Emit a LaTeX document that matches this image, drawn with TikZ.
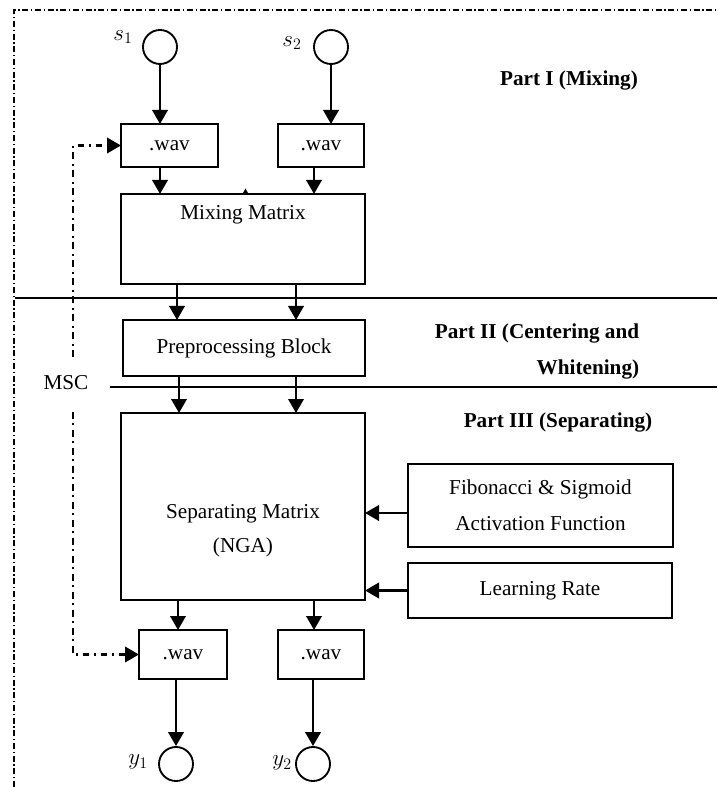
\documentclass[tikz,border=0pt]{standalone}
\usepackage{fontspec}
\setmainfont{Liberation Serif}
\usetikzlibrary{positioning,calc,arrows.meta}

\tikzset{
	blk/.style={draw, line width=1.4pt, inner sep=0pt, outer sep=0pt,%
		font=\fontsize{15.9}{27}\selectfont, align=center},
	src/.style={draw, circle, line width=1.4pt, minimum size=25.5pt, inner sep=0pt},
	lab/.style={font=\fontsize{15.9}{19}\selectfont, inner sep=0pt},
	mlab/.style={font=\fontsize{18}{20}\selectfont, inner sep=0pt},
	parttitle/.style={font=\fontsize{15.9}{27}\selectfont\bfseries, inner sep=0pt},
	arr/.style={-{Triangle[length=10.5pt,width=11.5pt]}, line width=2pt},
	fb/.style={-{Triangle[length=10.5pt,width=11.5pt]}, line width=2pt,%
		dash pattern=on 5pt off 3.5pt on 1.5pt off 3.5pt},
	border/.style={line width=0.9pt, dash pattern=on 4.5pt off 2pt on 1pt off 2pt},
	partline/.style={line width=1.2pt}
}

\begin{document}
\begin{tikzpicture}[x=0.75pt, y=-0.75pt]
	\useasboundingbox (0,0) rectangle (717,787);
	
	% frame and part lines
	\draw[border] (14,787) -- (14,10) -- (717,10);
	\draw[partline] (15,298) -- (717,298);
	\draw[partline] (110,387) -- (717,387);
	
	% sources
	\node[src] (s1) at (160,47) {};
	\node[src] (s2) at (331,47) {};
	\node[mlab] (s1lab) at (123,37) {$s_1$};
	\node[mlab] (s2lab) at (292,43) {$s_2$};
	
	% Part I
	\node[blk, minimum width=72.75pt, minimum height=32.25pt] (wavA) at (169.5,145.5) {.wav};
	\node[blk, minimum width=64.5pt, minimum height=32.25pt] (wavB) at (321,145.5) {.wav};
	\node[blk, minimum width=183pt, minimum height=67.5pt,%
		label={[lab, anchor=center, yshift=-15.75pt]north:Mixing Matrix}] (mix) at (243,239) {};
	\fill (242.5,194) -- (245.5,188.5) -- (248.5,194) -- cycle;
	
	% Part II
	\node[blk, minimum width=181.5pt, minimum height=42pt] (pre) at (244,348) {Preprocessing Block};
	
	% Part III
	\node[blk, minimum width=183pt, minimum height=140.25pt,%
		label={[lab, align=center, anchor=center, yshift=-18.4pt, font=\fontsize{15.9}{25.5}\selectfont]center:Separating Matrix\\(NGA)}] (sep) at (243,506.5) {};
	\node[blk, minimum width=198.75pt, minimum height=62.25pt] (fib) at (540.5,505.5) {Fibonacci \& Sigmoid\\Activation Function};
	\node[blk, minimum width=198pt, minimum height=41.25pt] (lr) at (540,590.5) {Learning Rate};
	\node[blk, minimum width=66pt, minimum height=36.75pt] (wavC) at (183,654.5) {.wav};
	\node[blk, minimum width=64.5pt, minimum height=36.75pt] (wavD) at (321,654.5) {.wav};
	
	% outputs
	\node[src] (y1) at (176,764) {};
	\node[src] (y2) at (313,764) {};
	\node[mlab] (y1lab) at (138,762) {$y_1$};
	\node[mlab] (y2lab) at (282,763) {$y_2$};
	
	% titles
	\node[parttitle] (p1) at (569,80) {Part I (Mixing)};
	\node[parttitle, align=right] (p2) at (537,351) {Part II (Centering\ and\\Whitening)};
	\node[parttitle] (p3) at (558,422) {Part III (Separating)};
	
	% MSC feedback
	\node[lab] (msc) at (66,383) {MSC};
	\coordinate (fbtop) at (73,357);
	\coordinate (fbbot) at (73,412);
	\draw[fb] (fbtop) |- (wavA.west);
	\draw[fb] (fbbot) |- (wavC.west);
	
	% signal flow
	\draw[arr] (s1) -- (s1 |- wavA.north);
	\draw[arr] (s2) -- (s2 |- wavB.north);
	\draw[arr] (s1 |- wavA.south) -- (s1 |- mix.north);
	\draw[arr] ($(wavB.south)+(-7,0)$) -- ($(wavB.south |- mix.north)+(-7,0)$);
	\foreach \dx/\ex in {-66/-65,53/52}{
		\draw[arr] ($(mix.south)+(\dx,0)$) -- ($(mix.south |- pre.north)+(\dx,0)$);
		\draw[arr] ($(pre.south)+(\ex,0)$) -- ($(pre.south |- sep.north)+(\ex,0)$);
	}
	\draw[arr] ($(sep.south)+(-65,0)$) -- ($(sep.south |- wavC.north)+(-65,0)$);
	\draw[arr] ($(sep.south)+(71,0)$) -- ($(sep.south |- wavD.north)+(71,0)$);
	\draw[arr] (y1 |- wavC.south) -- (y1);
	\draw[arr] (y2 |- wavD.south) -- (y2);
	\draw[arr] ($(fib.west)+(0,7.5)$) -- ($(sep.east |- fib.west)+(0,7.5)$);
	\draw[arr] (lr.west) -- (sep.east |- lr.west);
\end{tikzpicture}
\end{document}
